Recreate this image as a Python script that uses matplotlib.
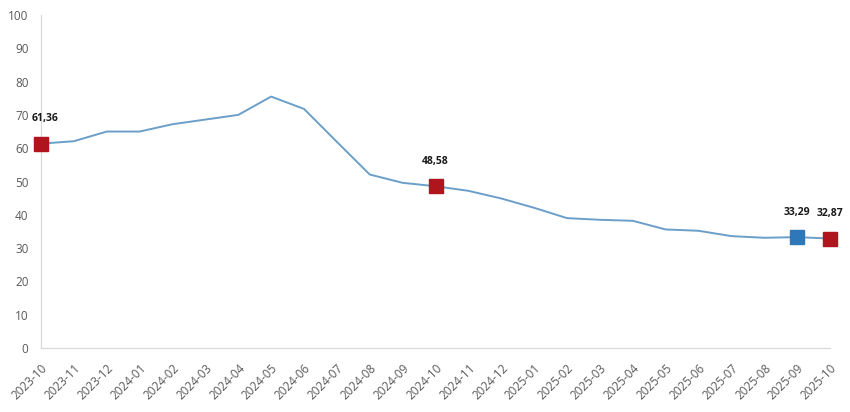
import matplotlib.pyplot as plt

# monthly values
months = ['2023-10', '2023-11', '2023-12', '2024-01', '2024-02', '2024-03',
          '2024-04', '2024-05', '2024-06', '2024-07', '2024-08', '2024-09',
          '2024-10', '2024-11', '2024-12', '2025-01', '2025-02', '2025-03',
          '2025-04', '2025-05', '2025-06', '2025-07', '2025-08', '2025-09',
          '2025-10']
values = [61.36, 62.1, 65.0, 65.0, 67.2, 68.6, 70.0, 75.5, 71.8, 61.9,
          52.1, 49.6, 48.58, 47.2, 44.9, 42.1, 39.0, 38.5, 38.2, 35.6,
          35.2, 33.6, 33.1, 33.29, 32.87]

# highlighted points (index, colour)
red_idx = [0, 12, 24]
blue_idx = [23]

plt.rcParams['font.family'] = ['Open Sans', 'DejaVu Sans']

fig = plt.figure(figsize=(8.5, 4.12), dpi=100)
ax = fig.add_axes([41 / 850, 64 / 412, 789 / 850, 333 / 412])

x = list(range(len(months)))
ax.plot(x, values, color='#6b9fc9', linewidth=1.4, zorder=2)

ax.plot([x[i] for i in red_idx], [values[i] for i in red_idx], 's',
        color='#b0141c', markersize=10, zorder=3, clip_on=False)
ax.plot([x[i] for i in blue_idx], [values[i] for i in blue_idx], 's',
        color='#2e78b7', markersize=10, zorder=3, clip_on=False)

for i in red_idx + blue_idx:
    dx = 3 if i == 0 else 0
    ax.annotate(f'{values[i]:.2f}'.replace('.', ','), (x[i], values[i]),
                xytext=(dx, 18), textcoords='offset points', ha='center',
                va='center', fontsize=7.5, fontweight='bold', color='#1a1a1a',
                annotation_clip=False)

ax.set_xlim(0, len(months) - 1)
ax.set_ylim(0, 100)
ax.set_yticks(range(0, 101, 10))
ax.set_xticks(x)
ax.set_xticklabels(months, rotation=45, ha='right', rotation_mode='anchor')

ax.tick_params(axis='both', length=0, colors='#595959', labelsize=8.5)
ax.tick_params(axis='x', pad=10)
ax.tick_params(axis='y', pad=9)

for side in ['top', 'right']:
    ax.spines[side].set_visible(False)
for side in ['left', 'bottom']:
    ax.spines[side].set_color('#d9d9d9')
    ax.spines[side].set_linewidth(0.9)

plt.savefig('out.png', dpi=100)
